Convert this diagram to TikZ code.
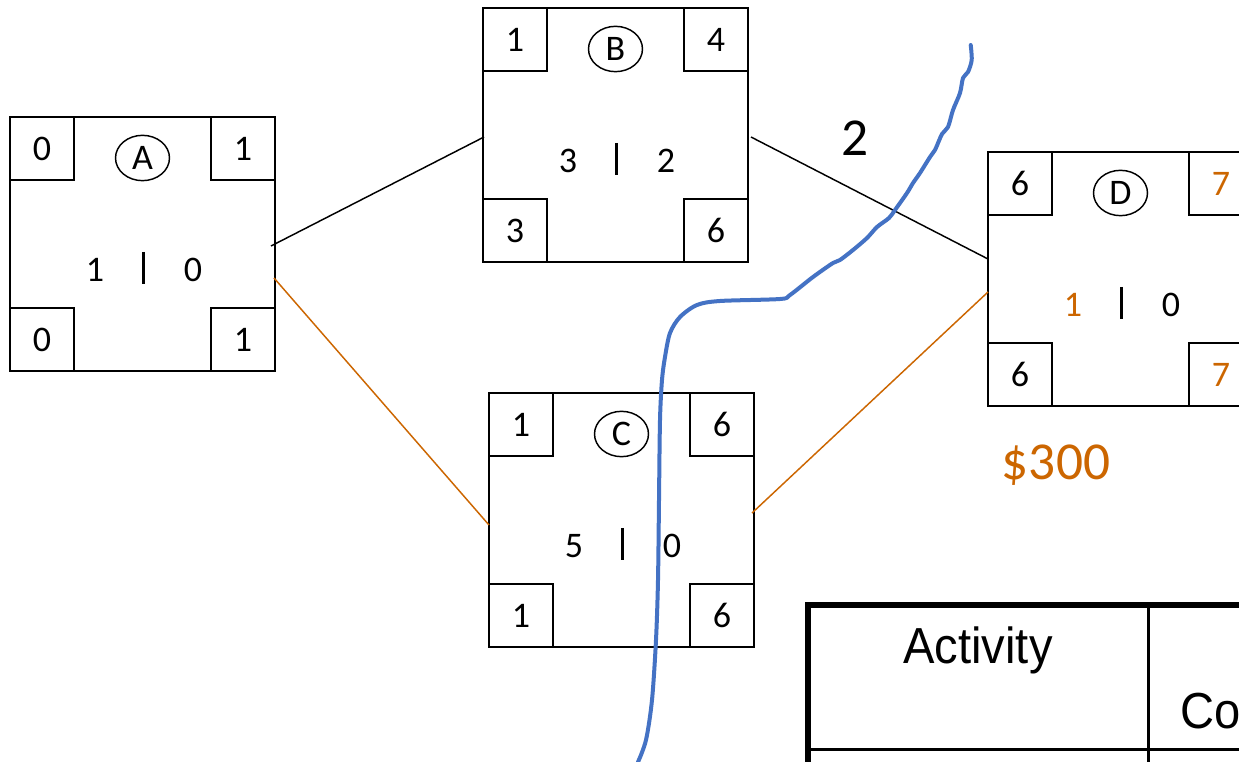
\documentclass[tikz,border=0pt]{standalone}
\usepackage{fontspec}
\setmainfont{Carlito}
\newfontfamily\arialf{Liberation Sans}
\usetikzlibrary{shapes.geometric,calc}
\definecolor{orng}{RGB}{204,102,0}
\definecolor{blu}{RGB}{68,114,196}
\tikzset{
  mainbox/.style={rectangle, draw, line width=1.5pt, minimum width=198.75pt, minimum height=190.5pt, inner sep=0pt, outer sep=0pt},
  cornerbox/.style={rectangle, draw, line width=1.5pt, minimum width=48pt, minimum height=47.25pt, inner sep=0pt, outer sep=0pt, font=\fontsize{27}{27}\selectfont},
  lettercirc/.style={ellipse, draw, line width=1.1pt, minimum width=40.5pt, minimum height=34pt, inner sep=0pt, font=\fontsize{27}{27}\selectfont},
  midnum/.style={inner sep=0pt, font=\fontsize{27}{27}\selectfont},
  barline/.style={line width=2.25pt},
  blackline/.style={line width=1.1pt, black},
  orngline/.style={line width=1.1pt, orng},
  bignum/.style={inner sep=0pt, font=\fontsize{40}{40}\selectfont},
  tabtext/.style={inner sep=0pt, font=\arialf\fontsize{38}{40}\selectfont},
}
\newcommand{\actbox}[9]{%
  \node[mainbox] (#1) at #2 {};
  \node[cornerbox, anchor=north west] (#1tl) at (#1.north west) {#4};
  \node[cornerbox, anchor=north east] (#1tr) at (#1.north east) {#5};
  \node[cornerbox, anchor=south west] (#1bl) at (#1.south west) {#6};
  \node[cornerbox, anchor=south east] (#1br) at (#1.south east) {#7};
  \node[lettercirc] (#1c) at ($(#1.north)+(0,41)$) {#3};
  \node[midnum] (#1l) at ($(#1.center)+(-47.5,26)$) {#8};
  \node[midnum] (#1r) at ($(#1.center)+(50.5,26)$) {#9};
  \coordinate (#1bt) at ($(#1.center)+(0.5,8)$);
  \coordinate (#1bb) at ($(#1.center)+(0.5,40)$);
  \draw[barline] (#1bt) -- (#1bb);
}
\begin{document}
\begin{tikzpicture}[x=0.75pt,y=-0.75pt]
\clip (0,0) rectangle (1239,762);
\fill[white] (0,0) rectangle (1239,762);

\actbox{A}{(142.5,244)}{A}{0}{1}{0}{1}{1}{0}
\actbox{B}{(615.5,135)}{B}{1}{4}{3}{6}{3}{2}
\actbox{C}{(621.5,520)}{C}{1}{6}{1}{6}{5}{0}
\actbox{D}{(1120.5,279)}{D}{6}{\textcolor{orng}{7}}{6}{\textcolor{orng}{7}}{\textcolor{orng}{1}}{0}

\draw[blackline] ($(A.east)+(-4,2)$) -- ($(B.west)+(1,2)$);
\draw[orngline] ($(A.east)+(-1,34)$) -- ($(C.west)+(0,5)$);
\draw[blackline] ($(B.east)+(3,2)$) -- ($(D.west)+(0,-20)$);
\draw[orngline] ($(C.east)+(-2,-7)$) -- ($(D.west)+(0,13)$);

\node[bignum] (lbl2) at (855,138) {2};
\node[bignum, text=orng, anchor=base] (cost) at (1056,480) {\$300};

% table
\coordinate (t1) at (808,770);
\coordinate (t2) at (808,605);
\coordinate (t3) at (1250,605);
\draw[line width=4.5pt, line join=miter] (t1) -- (t2) -- (t3);
\coordinate (v1) at (1148.5,607);
\coordinate (v2) at (1148.5,770);
\draw[line width=2.25pt] (v1) -- (v2);
\coordinate (h1) at (810,749.5);
\coordinate (h2) at (1250,749.5);
\draw[line width=1.9pt] (h1) -- (h2);
\node[tabtext, anchor=base] (act) at (978,663) {\scalebox{0.93}[1]{Activity}};
\node[tabtext, anchor=base west] (co) at (1180,728) {\scalebox{0.93}[1]{Co}};

% blue curve
\draw[blu, line width=3pt, line cap=round, line join=round] plot[smooth, tension=0.5] coordinates {
(970.7,45) (971.7,60) (968,72) (963,78) (960,93) (953,110) (948,127) (942,134) (935,150) (930,157) (920,173) (913,183) (907,193) (895,210) (889,218) (877,227) (867,238) (853,250) (840,260) (833,263) (813,277) (790,295) (780,299) (720,301) (697,305) (680,317) (670,333) (665,357) (662,380) (660,420) (659,500) (658,580) (656,640) (652,700) (646,740) (638,762)};
\end{tikzpicture}
\end{document}
